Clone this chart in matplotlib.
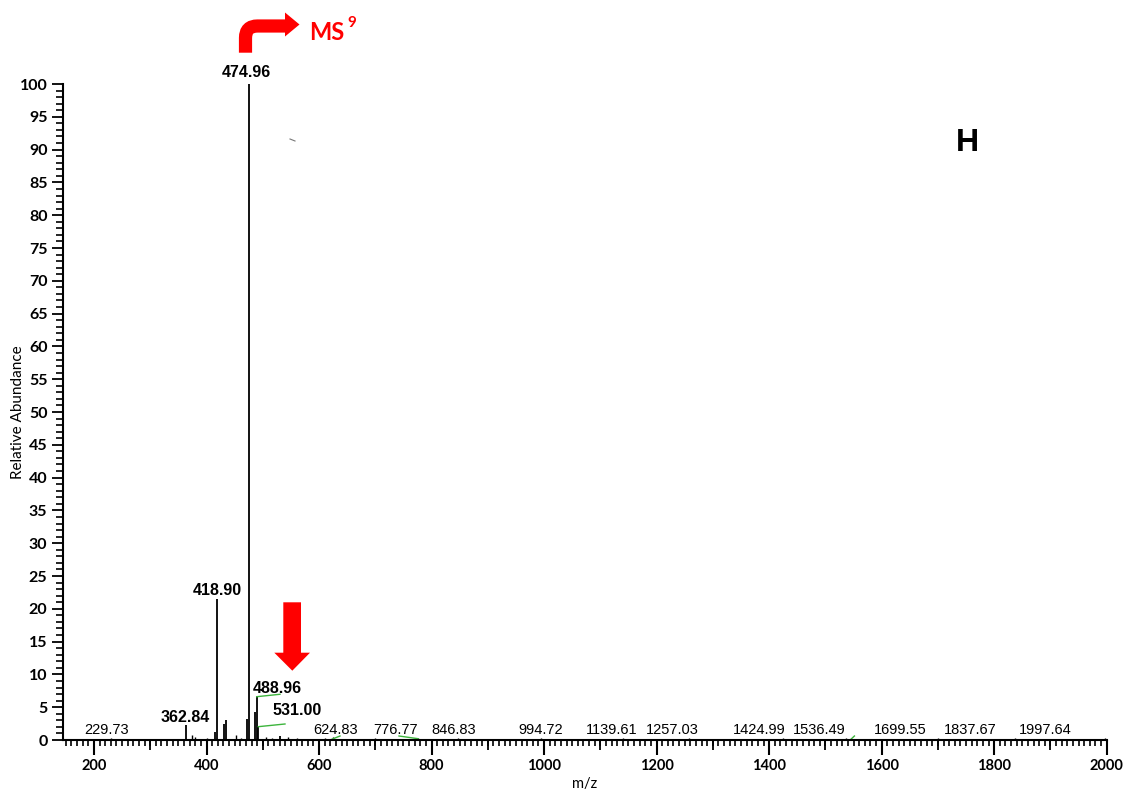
import matplotlib
matplotlib.use("Agg")
import matplotlib.pyplot as plt
from matplotlib.patches import Polygon
from matplotlib.path import Path
from matplotlib.patches import PathPatch

# peaks (m/z, relative abundance)
peak_mz = [474.96, 418.90, 362.84, 488.96, 487.0, 472.5, 431.5, 435.0, 415.5,
           491.5, 531.00]
peak_int = [100.0, 21.5, 2.3, 6.7, 4.3, 3.2, 2.4, 3.1, 1.2, 2.0, 0.6]

# baseline noise
noise_mz = [229.73, 260, 300, 330, 375, 379, 390, 400, 452, 462, 505, 516, 544,
            560, 580, 610, 624.83, 660, 700, 776.77, 790, 846.83, 900, 994.72,
            1040, 1139.61, 1257.03, 1300, 1424.99, 1460, 1536.49, 1650,
            1699.55, 1837.67, 1900, 1997.64]
noise_int = [0.3, 0.2, 0.2, 0.2, 0.8, 0.5, 0.2, 0.3, 0.7, 0.3, 0.4, 0.3, 0.5,
             0.3, 0.2, 0.3, 0.4, 0.2, 0.3, 0.3, 0.2, 0.3, 0.2, 0.3,
             0.2, 0.3, 0.3, 0.2, 0.3, 0.2, 0.3, 0.2,
             0.3, 0.3, 0.2, 0.3]

# bold labels on the big peaks: text, anchor m/z, anchor y
bold_text = ["474.96", "418.90", "362.84", "488.96", "531.00"]
bold_x = [470.0, 418.9, 361.5, 526.7, 560.3]
bold_y = [100.6, 21.7, 2.3, 6.7, 3.3]

# plain labels along the baseline
small_text = ["229.73", "624.83", "776.77", "846.83", "994.72", "1139.61",
              "1257.03", "1424.99", "1536.49", "1699.55", "1837.67", "1997.64"]
small_x = [222.8, 629.8, 735.9, 839.0, 993.6, 1120.0, 1228.8, 1382.3,
           1489.6, 1632.3, 1757.0, 1891.3]

# green leader lines (x0, y0, x1, y1)
leaders = [(489.2, 6.6, 530.6, 6.97), (492.0, 2.03, 539.5, 2.44),
           (622.5, 0.1, 637.3, 0.61), (742.1, 0.61, 775.9, 0.2),
           (1544.0, 0.0, 1551.6, 0.61)]

W, H = 1123, 792
fig = plt.figure(figsize=(W / 100, H / 100), dpi=100)
ax = fig.add_axes([62.7 / W, 1 - 740 / H, (1106.7 - 62.7) / W, (740 - 84) / H])

def px(x, y):
    return (x / W, 1 - y / H)

ax.vlines(noise_mz, 0, noise_int, color="black", lw=1.0)
ax.vlines(peak_mz, 0, peak_int, color="black", lw=1.3)

for x0, y0, x1, y1 in leaders:
    ax.plot([x0, x1], [y0, y1], color="#3cb43c", lw=1.0)

for t, x, y in zip(bold_text, bold_x, bold_y):
    ax.text(x, y, t, ha="center", va="bottom", fontsize=11.5, fontweight="bold",
            family="Liberation Sans", clip_on=False)
for t, x in zip(small_text, small_x):
    ax.text(x, 0.5, t, ha="center", va="bottom", fontsize=10.5,
            family="Liberation Sans", clip_on=False)

ax.set_xlim(144.4, 2000)
ax.set_ylim(0, 100)
ax.spines["top"].set_visible(False)
ax.spines["right"].set_visible(False)
for s in ("left", "bottom"):
    ax.spines[s].set_linewidth(1.5)

ax.set_xticks(range(200, 2001, 200))
ax.set_xticks(range(150, 2001, 10), minor=True)
ax.set_yticks(range(0, 101, 5))
ax.set_yticks(range(0, 101, 1), minor=True)
ax.tick_params(axis="x", which="major", length=11, width=1.5, pad=2.5)
ax.tick_params(axis="x", which="minor", length=4, width=1.2)
ax.tick_params(axis="y", which="major", length=8, width=1.3, pad=3)
ax.tick_params(axis="y", which="minor", length=5, width=1.2)
for lab in ax.get_yticklabels():
    lab.set_family("Lato")
    lab.set_fontsize(11.5)
    lab.set_fontweight("bold")
for lab in ax.get_xticklabels():
    lab.set_family("Lato")
    lab.set_fontsize(10.5)
    lab.set_fontweight("bold")

# medium ticks every 100
sec = ax.secondary_xaxis("bottom")
sec.set_xticks(range(300, 2001, 200))
sec.tick_params(length=7, width=1.3, labelbottom=False)
sec.spines["bottom"].set_visible(False)

ax.set_xlabel("m/z", family="Lato", fontsize=10.5, labelpad=3)
ax.set_ylabel("Relative Abundance", family="Lato", fontsize=11)
ax.yaxis.set_label_coords((25 - 62.7) / 1044, 0.5)

# panel letter
fig.text(*px(967, 143), "H", ha="center", va="center", fontsize=23,
         fontweight="bold", family="Liberation Sans")

# red bent arrow and MS9
r = 12
verts = [px(245.5, 52.7), px(245.5, 26 + r), px(245.5, 26), px(245.5 + r, 26), px(287, 26)]
codes = [Path.MOVETO, Path.LINETO, Path.CURVE3, Path.CURVE3, Path.LINETO]
fig.patches.append(PathPatch(Path(verts, codes), transform=fig.transFigure,
                             fill=False, edgecolor="#ff0000", lw=9.5,
                             capstyle="butt", joinstyle="miter"))
fig.patches.append(Polygon([px(285, 12.5), px(299.5, 24.5), px(285, 36.5)],
                           closed=True, transform=fig.transFigure,
                           facecolor="#ff0000", edgecolor="none"))
fig.text(*px(309, 32), "MS", ha="left", va="center", fontsize=17,
         fontweight="bold", color="#ff0000", family="Lato")
fig.text(*px(347, 23), "9", ha="left", va="center", fontsize=11,
         fontweight="bold", color="#ff0000", family="Lato")

# red down arrow
fig.patches.append(Polygon([px(283.3, 602.3), px(301, 602.3), px(301, 652.7),
                            px(310, 652.7), px(292.3, 670.7), px(274.3, 652.7),
                            px(283.3, 652.7)],
                           closed=True, transform=fig.transFigure,
                           facecolor="#ff0000", edgecolor="none"))

# stray mark
fig.lines.append(plt.Line2D([290 / W, 295 / W], [1 - 139 / H, 1 - 141 / H],
                            transform=fig.transFigure, color="#777777", lw=0.8))

fig.savefig("out.png", dpi=100)
